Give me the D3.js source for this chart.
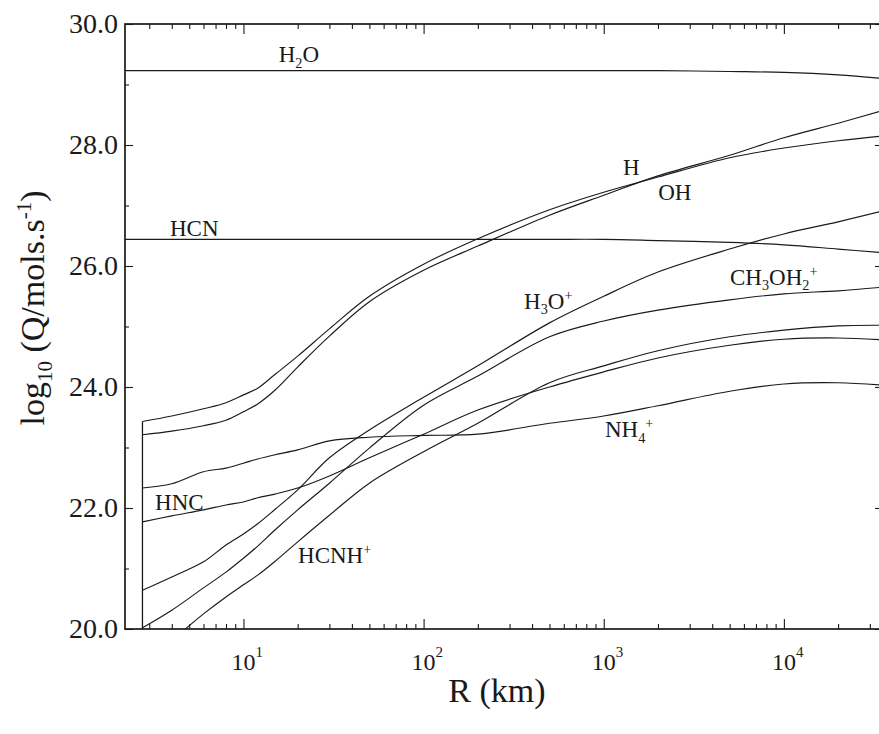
<!DOCTYPE html>
<html><head><meta charset="utf-8">
<script src="https://cdn.jsdelivr.net/npm/d3@7"></script>
<style>
body{margin:0;background:#fff}
svg{display:block}
</style>
</head><body>
<svg id="chart" width="879" height="734" font-family="'Liberation Serif', 'DejaVu Serif', serif"></svg>
<script>
// ---------------- data ----------------
const radiusKm = [2.75,4,6,8,10,12,15,20,30,50,100,200,500,1000,2000,5000,10000,20000,35500];
const qH2O    = [29.23,29.23,29.23,29.23,29.23,29.23,29.23,29.23,29.23,29.23,29.23,29.23,29.23,29.23,29.23,29.215,29.2,29.16,29.1];
const qHCN    = [26.44,26.44,26.44,26.44,26.44,26.44,26.44,26.44,26.44,26.44,26.44,26.44,26.44,26.44,26.42,26.39,26.35,26.28,26.22];
const qOH     = [23.43,23.52,23.64,23.74,23.87,23.98,24.21,24.51,24.96,25.50,26.03,26.45,26.93,27.22,27.47,27.79,27.95,28.07,28.15];
const qH      = [23.21,23.27,23.36,23.45,23.59,23.72,23.95,24.33,24.84,25.41,25.93,26.33,26.84,27.17,27.49,27.83,28.12,28.36,28.57];
const qH3Op   = [20.64,20.86,21.11,21.39,21.57,21.74,21.98,22.30,22.83,23.29,23.83,24.35,25.06,25.50,25.90,26.28,26.53,26.73,26.91];
const qCH3OH2p= [20.02,20.31,20.68,20.94,21.17,21.37,21.64,21.97,22.41,22.99,23.70,24.18,24.83,25.09,25.27,25.44,25.54,25.59,25.65];
const qNH4p   = [22.33,22.40,22.60,22.66,22.74,22.81,22.88,22.96,23.11,23.17,23.20,23.22,23.40,23.52,23.69,23.93,24.05,24.07,24.03];
const qHNC    = [21.77,21.87,21.97,22.05,22.10,22.17,22.23,22.33,22.53,22.83,23.22,23.62,24.00,24.25,24.48,24.69,24.79,24.81,24.78];
const qHCNHp  = [19.49,19.82,20.25,20.53,20.73,20.89,21.12,21.44,21.88,22.41,22.93,23.40,24.07,24.35,24.60,24.83,24.94,25.01,25.02];

const seriesNames = ["H2O","HCN","OH","H","H3O+","CH3OH2+","NH4+","HNC","HCNH+"];
const seriesValues = [qH2O,qHCN,qOH,qH,qH3Op,qCH3OH2p,qNH4p,qHNC,qHCNHp];
const parentSpecies = ["H2O","HCN"];

const xMajorTicks = [10,100,1000,10000];
const xMinorTicks = [3,4,5,6,7,8,9,20,30,40,50,60,70,80,90,200,300,400,500,600,700,800,900,
                     2000,3000,4000,5000,6000,7000,8000,9000,20000,30000];
const yMajorTicks = [20,22,24,26,28,30];
const yMinorTicks = [21,23,25,27,29];

// label text parts and their anchor in data space (R km, log Q)
const labelParts = [
  [["H",""],["2","sub"],["O",""]],
  [["HCN",""]],
  [["H",""]],
  [["OH",""]],
  [["H",""],["3","sub"],["O",""],["+","sup"]],
  [["CH",""],["3","sub"],["OH",""],["2","sub"],["+","sup"]],
  [["NH",""],["4","sub"],["+","sup"]],
  [["HNC",""]],
  [["HCNH",""],["+","sup"]]
];
const labelR = [15.7,3.91,1279,2005,361,5023,1016,3.23,20.1];
const labelQ = [29.37,26.50,27.50,27.09,25.29,25.69,23.17,21.97,21.09];

// ---------------- layout ----------------
const P = {l:125, r:883, t:24, b:629};
const x = d3.scaleLog().domain([2.2,35500]).range([P.l,P.r]);
const y = d3.scaleLinear().domain([20,30]).range([P.b,P.t]);
const ink = "#1a1a1a";
const FONT = "'Liberation Serif', 'DejaVu Serif', serif";

const svg = d3.select("#chart");
svg.append("defs").append("clipPath").attr("id","clip")
  .append("rect").attr("x",P.l).attr("y",P.t).attr("width",P.r-P.l).attr("height",P.b-P.t);

const plot = svg.append("g").attr("clip-path","url(#clip)");

// curves
const line = d3.line().x(d=>x(d[0])).y(d=>y(d[1])).curve(d3.curveCatmullRom.alpha(0.5));
seriesValues.forEach((vals,i)=>{
  let pts = radiusKm.map((r,j)=>[r,vals[j]]);
  // parent species fill the whole range from the left axis
  if(parentSpecies.includes(seriesNames[i])) pts = [[x.domain()[0], vals[0]]].concat(pts);
  plot.append("path").attr("d",line(pts))
    .attr("fill","none").attr("stroke",ink).attr("stroke-width",1.15);
});

// vertical rise of daughter species at the inner boundary
const daughterStarts = seriesValues.filter((v,i)=>!parentSpecies.includes(seriesNames[i])).map(v=>v[0]);
plot.append("path")
  .attr("d", d3.line()([[x(radiusKm[0]), y(20)],[x(radiusKm[0]), y(d3.max(daughterStarts))]]))
  .attr("stroke",ink).attr("stroke-width",1.3).attr("fill","none");

// axes: ticks pointing inward on all four sides
function xTicks(vals,len){
  const gB = svg.append("g").attr("transform",`translate(0,${P.b})`)
    .call(d3.axisBottom(x).tickValues(vals).tickSize(-len).tickFormat(""));
  const gT = svg.append("g").attr("transform",`translate(0,${P.t})`)
    .call(d3.axisTop(x).tickValues(vals).tickSize(-len).tickFormat(""));
  [gB,gT].forEach(g=>{g.select(".domain").remove(); g.selectAll("line").attr("stroke",ink).attr("stroke-width",1.1);});
}
function yTicks(vals,len){
  const gL = svg.append("g").attr("transform",`translate(${P.l},0)`)
    .call(d3.axisLeft(y).tickValues(vals).tickSize(-len).tickFormat(""));
  const gR = svg.append("g").attr("transform",`translate(${P.r},0)`)
    .call(d3.axisRight(y).tickValues(vals).tickSize(-len).tickFormat(""));
  [gL,gR].forEach(g=>{g.select(".domain").remove(); g.selectAll("line").attr("stroke",ink).attr("stroke-width",1.1);});
}
xTicks(xMajorTicks,10); xTicks(xMinorTicks,5);
yTicks(yMajorTicks,8); yTicks(yMinorTicks,4);

svg.append("rect").attr("x",P.l).attr("y",P.t).attr("width",P.r-P.l).attr("height",P.b-P.t)
  .attr("fill","none").attr("stroke",ink).attr("stroke-width",1.7);

function T(sel){ return sel.append("text").attr("font-family",FONT).attr("fill",ink); }

// y tick labels
const fmt = d3.format(".1f");
yMajorTicks.forEach(v=>{
  T(svg).attr("x",P.l-7).attr("y",y(v)+9).attr("text-anchor","end")
    .attr("font-size",28).text(fmt(v));
});

// x tick labels 10^n
xMajorTicks.forEach(v=>{
  T(svg).attr("x",x(v)).attr("y",670).attr("text-anchor","middle")
    .attr("font-size",24).text("10");
  T(svg).attr("x",x(v)+12).attr("y",657).attr("text-anchor","start")
    .attr("font-size",15).text(String(Math.round(Math.log10(v))));
});

// rich text helper
function rich(textSel, parts, size){
  let cur = 0;
  parts.forEach(([t,k])=>{
    const target = k==="sub" ? size*0.24 : k==="sup" ? -size*0.38 : 0;
    const ts = textSel.append("tspan").text(t).attr("dy", target-cur);
    if(k) ts.attr("font-size", size*0.62);
    cur = target;
  });
}

// curve labels
labelParts.forEach((parts,i)=>{
  const t = T(svg).attr("x",x(labelR[i])).attr("y",y(labelQ[i])).attr("font-size",23);
  rich(t, parts, 23);
});

// axis titles
T(svg).attr("x",(P.l+P.r)/2 - 7).attr("y",702).attr("text-anchor","middle")
  .attr("font-size",34).text("R (km)");
const yt = T(svg).attr("transform","translate(44,308) rotate(-90)")
  .attr("text-anchor","middle").attr("font-size",34);
rich(yt, [["log",""],["10","sub"],[" (Q/mols.s",""],["-1","sup"],[")",""]], 34);
</script>
</body></html>
